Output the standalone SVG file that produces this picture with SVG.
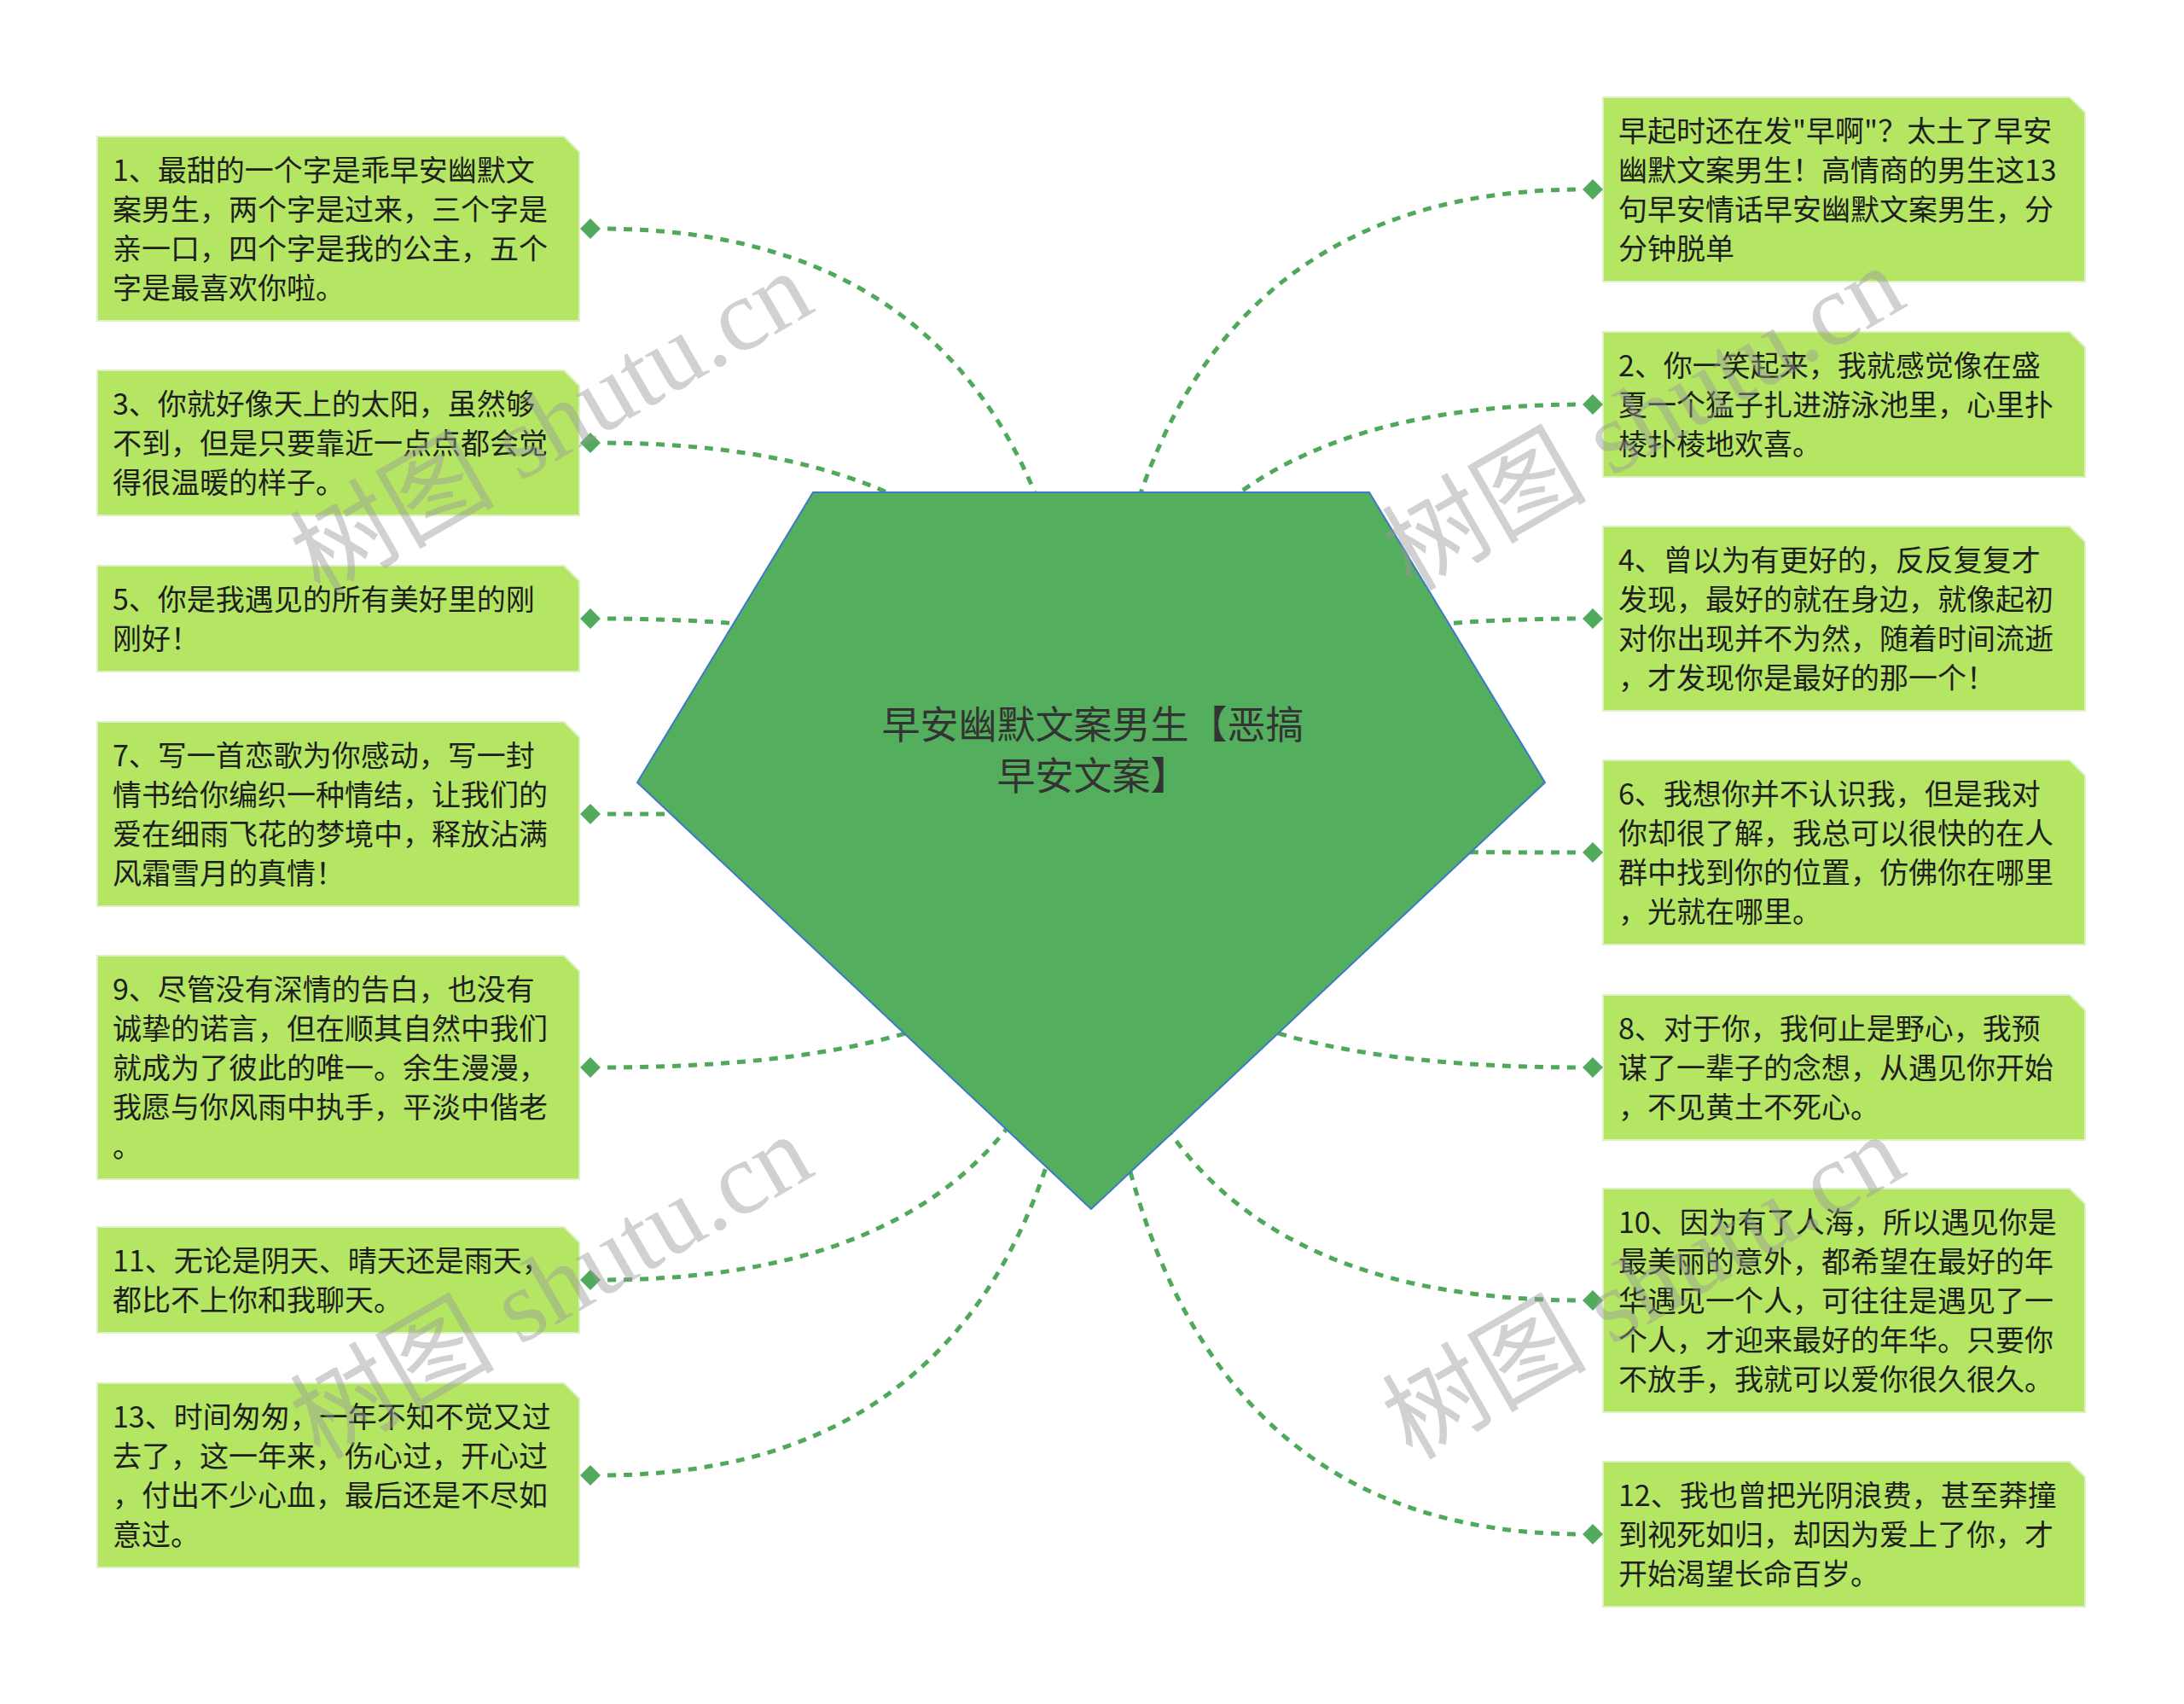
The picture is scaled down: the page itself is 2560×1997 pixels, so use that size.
<svg xmlns="http://www.w3.org/2000/svg" width="2560" height="1997" viewBox="0 0 2560 1997">
<style>
.box{fill:#b5e663;stroke:#dcf2c4;stroke-width:2}
.t{font-family:"Noto Sans CJK SC","Liberation Sans",sans-serif;font-size:34px;fill:#1e1e1e}
.ct{font-family:"Noto Sans CJK SC","Liberation Sans",sans-serif;font-size:45px;fill:#333;text-anchor:middle}
.con{fill:none;stroke:#4fa95a;stroke-width:5;stroke-dasharray:10 9;stroke-dashoffset:10}
.dia{fill:#52ab5c}
.wm{font-family:"Liberation Serif","Noto Sans CJK SC",serif;font-size:120px;fill:#9a9a9a;opacity:0.45}
</style>
<rect width="2560" height="1997" fill="#fff"/>
<g id="connectors">
<path class="con" d="M703 268 Q1280 268 1280 980"/>
<path class="con" d="M703 519 Q1280 519 1280 980"/>
<path class="con" d="M703 725 Q1280 725 1280 980"/>
<path class="con" d="M703 954 Q1280 954 1280 980"/>
<path class="con" d="M703 1251 Q1280 1251 1280 980"/>
<path class="con" d="M703 1500 Q1280 1500 1280 980"/>
<path class="con" d="M703 1729 Q1280 1729 1280 980"/>
<path class="con" d="M1856 222 Q1280 222 1280 980"/>
<path class="con" d="M1856 474 Q1280 474 1280 980"/>
<path class="con" d="M1856 725 Q1280 725 1280 980"/>
<path class="con" d="M1856 999 Q1280 999 1280 980"/>
<path class="con" d="M1856 1251 Q1280 1251 1280 980"/>
<path class="con" d="M1856 1524 Q1280 1524 1280 980"/>
<path class="con" d="M1856 1798 Q1280 1798 1280 980"/>
</g>
<g id="center">
<polygon points="953,577 1605,577 1811,917 1279,1417 747,917" fill="#53ae5d" stroke="#3d78cc" stroke-width="2"/>
<text class="ct" x="1281" y="866">早安幽默文案男生【恶搞</text>
<text class="ct" x="1281" y="926">早安文案】</text>
</g>
<g id="n1">
<path class="box" d="M114 160 H661 L679 178 V376 H114 Z"/>
<text class="t" x="132" y="212">1、最甜的一个字是乖早安幽默文</text>
<text class="t" x="132" y="258">案男生，两个字是过来，三个字是</text>
<text class="t" x="132" y="304">亲一口，四个字是我的公主，五个</text>
<text class="t" x="132" y="350">字是最喜欢你啦。</text>
<path class="dia" d="M692 256 L704 268 L692 280 L680 268 Z"/>
</g>
<g id="n3">
<path class="box" d="M114 434 H661 L679 452 V604 H114 Z"/>
<text class="t" x="132" y="486">3、你就好像天上的太阳，虽然够</text>
<text class="t" x="132" y="532">不到，但是只要靠近一点点都会觉</text>
<text class="t" x="132" y="578">得很温暖的样子。</text>
<path class="dia" d="M692 507 L704 519 L692 531 L680 519 Z"/>
</g>
<g id="n5">
<path class="box" d="M114 663 H661 L679 681 V787 H114 Z"/>
<text class="t" x="132" y="715">5、你是我遇见的所有美好里的刚</text>
<text class="t" x="132" y="761">刚好！</text>
<path class="dia" d="M692 713 L704 725 L692 737 L680 725 Z"/>
</g>
<g id="n7">
<path class="box" d="M114 846 H661 L679 864 V1062 H114 Z"/>
<text class="t" x="132" y="898">7、写一首恋歌为你感动，写一封</text>
<text class="t" x="132" y="944">情书给你编织一种情结，让我们的</text>
<text class="t" x="132" y="990">爱在细雨飞花的梦境中，释放沾满</text>
<text class="t" x="132" y="1036">风霜雪月的真情！</text>
<path class="dia" d="M692 942 L704 954 L692 966 L680 954 Z"/>
</g>
<g id="n9">
<path class="box" d="M114 1120 H661 L679 1138 V1382 H114 Z"/>
<text class="t" x="132" y="1172">9、尽管没有深情的告白，也没有</text>
<text class="t" x="132" y="1218">诚挚的诺言，但在顺其自然中我们</text>
<text class="t" x="132" y="1264">就成为了彼此的唯一。余生漫漫，</text>
<text class="t" x="132" y="1310">我愿与你风雨中执手，平淡中偕老</text>
<text class="t" x="132" y="1356">。</text>
<path class="dia" d="M692 1239 L704 1251 L692 1263 L680 1251 Z"/>
</g>
<g id="n11">
<path class="box" d="M114 1438 H661 L679 1456 V1562 H114 Z"/>
<text class="t" x="132" y="1490">11、无论是阴天、晴天还是雨天，</text>
<text class="t" x="132" y="1536">都比不上你和我聊天。</text>
<path class="dia" d="M692 1488 L704 1500 L692 1512 L680 1500 Z"/>
</g>
<g id="n13">
<path class="box" d="M114 1621 H661 L679 1639 V1837 H114 Z"/>
<text class="t" x="132" y="1673">13、时间匆匆，一年不知不觉又过</text>
<text class="t" x="132" y="1719">去了，这一年来，伤心过，开心过</text>
<text class="t" x="132" y="1765">，付出不少心血，最后还是不尽如</text>
<text class="t" x="132" y="1811">意过。</text>
<path class="dia" d="M692 1717 L704 1729 L692 1741 L680 1729 Z"/>
</g>
<g id="n0">
<path class="box" d="M1879 114 H2426 L2444 132 V330 H1879 Z"/>
<text class="t" x="1897" y="166">早起时还在发"早啊"？太土了早安</text>
<text class="t" x="1897" y="212">幽默文案男生！高情商的男生这13</text>
<text class="t" x="1897" y="258">句早安情话早安幽默文案男生，分</text>
<text class="t" x="1897" y="304">分钟脱单</text>
<path class="dia" d="M1867 210 L1879 222 L1867 234 L1855 222 Z"/>
</g>
<g id="n2">
<path class="box" d="M1879 389 H2426 L2444 407 V559 H1879 Z"/>
<text class="t" x="1897" y="441">2、你一笑起来，我就感觉像在盛</text>
<text class="t" x="1897" y="487">夏一个猛子扎进游泳池里，心里扑</text>
<text class="t" x="1897" y="533">棱扑棱地欢喜。</text>
<path class="dia" d="M1867 462 L1879 474 L1867 486 L1855 474 Z"/>
</g>
<g id="n4">
<path class="box" d="M1879 617 H2426 L2444 635 V833 H1879 Z"/>
<text class="t" x="1897" y="669">4、曾以为有更好的，反反复复才</text>
<text class="t" x="1897" y="715">发现，最好的就在身边，就像起初</text>
<text class="t" x="1897" y="761">对你出现并不为然，随着时间流逝</text>
<text class="t" x="1897" y="807">，才发现你是最好的那一个！</text>
<path class="dia" d="M1867 713 L1879 725 L1867 737 L1855 725 Z"/>
</g>
<g id="n6">
<path class="box" d="M1879 891 H2426 L2444 909 V1107 H1879 Z"/>
<text class="t" x="1897" y="943">6、我想你并不认识我，但是我对</text>
<text class="t" x="1897" y="989">你却很了解，我总可以很快的在人</text>
<text class="t" x="1897" y="1035">群中找到你的位置，仿佛你在哪里</text>
<text class="t" x="1897" y="1081">，光就在哪里。</text>
<path class="dia" d="M1867 987 L1879 999 L1867 1011 L1855 999 Z"/>
</g>
<g id="n8">
<path class="box" d="M1879 1166 H2426 L2444 1184 V1336 H1879 Z"/>
<text class="t" x="1897" y="1218">8、对于你，我何止是野心，我预</text>
<text class="t" x="1897" y="1264">谋了一辈子的念想，从遇见你开始</text>
<text class="t" x="1897" y="1310">，不见黄土不死心。</text>
<path class="dia" d="M1867 1239 L1879 1251 L1867 1263 L1855 1251 Z"/>
</g>
<g id="n10">
<path class="box" d="M1879 1393 H2426 L2444 1411 V1655 H1879 Z"/>
<text class="t" x="1897" y="1445">10、因为有了人海，所以遇见你是</text>
<text class="t" x="1897" y="1491">最美丽的意外，都希望在最好的年</text>
<text class="t" x="1897" y="1537">华遇见一个人，可往往是遇见了一</text>
<text class="t" x="1897" y="1583">个人，才迎来最好的年华。只要你</text>
<text class="t" x="1897" y="1629">不放手，我就可以爱你很久很久。</text>
<path class="dia" d="M1867 1512 L1879 1524 L1867 1536 L1855 1524 Z"/>
</g>
<g id="n12">
<path class="box" d="M1879 1713 H2426 L2444 1731 V1883 H1879 Z"/>
<text class="t" x="1897" y="1765">12、我也曾把光阴浪费，甚至莽撞</text>
<text class="t" x="1897" y="1811">到视死如归，却因为爱上了你，才</text>
<text class="t" x="1897" y="1857">开始渴望长命百岁。</text>
<path class="dia" d="M1867 1786 L1879 1798 L1867 1810 L1855 1798 Z"/>
</g>
<g id="watermarks">
<text class="wm" transform="translate(375,700) rotate(-30)">树图 shutu.cn</text>
<text class="wm" transform="translate(1655,694) rotate(-30)">树图 shutu.cn</text>
<text class="wm" transform="translate(375,1712) rotate(-30)">树图 shutu.cn</text>
<text class="wm" transform="translate(1655,1712) rotate(-30)">树图 shutu.cn</text>
</g>
</svg>
